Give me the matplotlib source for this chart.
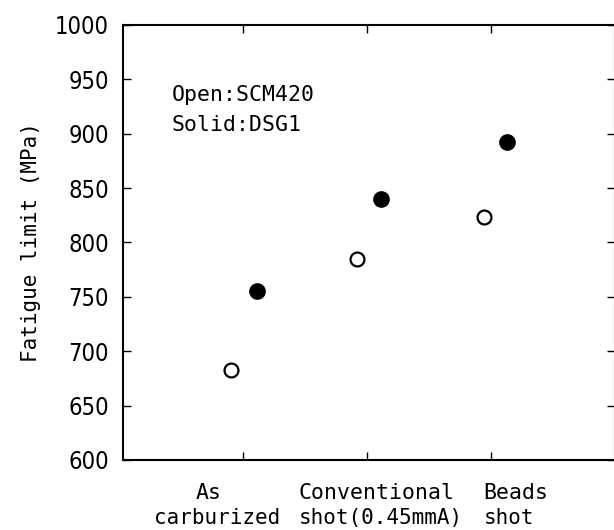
import matplotlib
matplotlib.use("Agg")
from matplotlib import pyplot as plt

# fatigue limit (MPa) per treatment
categories = ["As\ncarburized", "Conventional\nshot(0.45mmA)", "Beads\nshot"]
cat_pos = [1, 2, 3]
scm420 = [683, 785, 823]   # open circles
dsg1 = [755, 840, 892]     # solid circles
open_x = [0.90, 1.92, 2.94]
solid_x = [1.11, 2.11, 3.13]
yticks = [600, 650, 700, 750, 800, 850, 900, 950, 1000]

mono = ["DejaVu Sans Mono"]

fig = plt.figure(figsize=(6.14, 5.30), dpi=100)
W, H = 614, 530
left, right, bottom, top = 123, 615, 460, 25
ax = fig.add_axes([left / W, 1 - bottom / H, (right - left) / W, (bottom - top) / H])

ax.plot(open_x, scm420, linestyle="none", marker="o", markersize=10,
        markerfacecolor="white", markeredgecolor="black", markeredgewidth=1.6)
ax.plot(solid_x, dsg1, linestyle="none", marker="o", markersize=11,
        markerfacecolor="black", markeredgecolor="black")

ax.set_xlim(0.03, 4.0)
ax.set_ylim(600, 1000)
ax.set_xticks(cat_pos)
ax.set_xticklabels([])
ax.set_yticks(yticks)
ax.set_yticklabels([str(v) for v in yticks], family="DejaVu Sans",
                   stretch="condensed", fontsize=17)
ax.tick_params(direction="in", length=6, width=1, top=True, right=True, pad=10)
for s in ax.spines.values():
    s.set_linewidth(1.5)

ax.set_ylabel("Fatigue limit (MPa)", family=mono, fontsize=15, labelpad=10)

# category labels drawn under the axis, two lines each
lines1 = [c.split("\n")[0] for c in categories]
lines2 = [c.split("\n")[1] for c in categories]
lab_x = [0.72, 1.45, 2.94]
lab_ha = ["center", "left", "left"]
lab_x2 = [0.79, 1.45, 2.94]
for i in range(3):
    ax.text(lab_x[i], 570, lines1[i], family=mono, fontsize=15.5,
            ha=lab_ha[i], va="center", clip_on=False)
    ax.text(lab_x2[i], 547, lines2[i], family=mono, fontsize=15,
            ha=lab_ha[i], va="center", clip_on=False)

ax.text(0.42, 936, "Open:SCM420", family=mono, fontsize=15.5, va="center")
ax.text(0.42, 908, "Solid:DSG1", family=mono, fontsize=15.5, va="center")

fig.savefig("out.png", dpi=100)
